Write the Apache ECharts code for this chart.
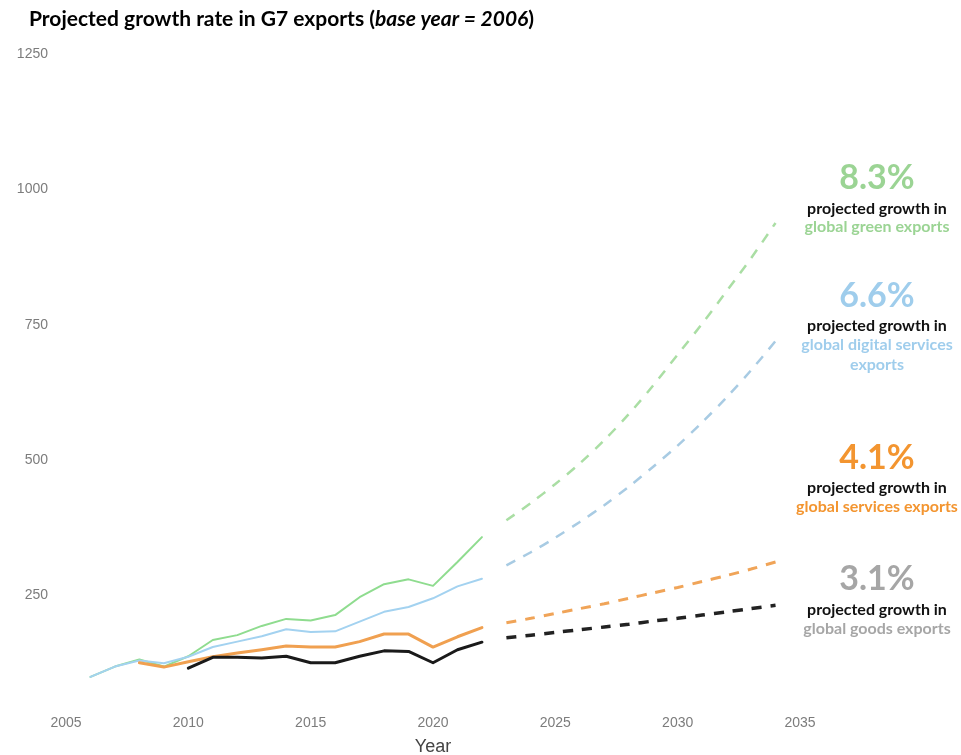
<!DOCTYPE html>
<html>
<head>
<meta charset="utf-8">
<script src="https://cdn.jsdelivr.net/npm/echarts@6/dist/echarts.min.js"></script>
<style>
  html, body { margin: 0; padding: 0; background: #fff; }
  #chart { width: 961px; height: 755px; }
</style>
</head>
<body>
<div id="chart"></div>
<script>
// Historical index values (2006 = 100)
const histYears = [2006, 2007, 2008, 2009, 2010, 2011, 2012, 2013, 2014, 2015, 2016, 2017, 2018, 2019, 2020, 2021, 2022];
const greenHist   = [100, 119, 132, 119, 138, 168, 177, 194, 207, 204, 214, 247, 271, 280, 268, 312, 358];
const digitalHist = [100, 119, 130, 125, 137, 155, 165, 175, 188, 183, 184, 202, 220, 229, 245, 267, 281];
const servicesHist = [null, null, 126, 118, 128, 137, 144, 150, 157, 155, 155, 165, 179, 179, 155, 174, 191];
const goodsHist   = [null, null, null, null, 116, 136, 136, 135, 138, 126, 126, 138, 148, 147, 126, 150, 164];

// Projected index values
const projYears = [2023, 2024, 2025, 2026, 2027, 2028, 2029, 2030, 2031, 2032, 2033, 2034];
const greenProj    = [389, 421, 456, 494, 537, 585, 638, 695, 752, 812, 873, 938];
const digitalProj  = [306, 330, 357, 386, 417, 451, 488, 527, 570, 616, 666, 720];
const servicesProj = [200, 208, 217, 226, 235, 245, 255, 265, 276, 287, 299, 312];
const goodsProj    = [172, 177, 182, 187, 192, 197, 203, 208, 214, 220, 226, 232];

const xTicks = [2005, 2010, 2015, 2020, 2025, 2030, 2035];
const yTicks = [250, 500, 750, 1000, 1250];

const pair = (xs, ys) => xs.map((x, i) => [x, ys[i]]);

const GREEN = '#9bd494', BLUE = '#9fcdec', ORANGE = '#f39530', GREY = '#a6a6a6';

function solid(name, ys, color, width) {
  return { name, type: 'line', data: pair(histYears, ys), showSymbol: false, connectNulls: false,
    lineStyle: { color, width, cap: 'round', join: 'round' }, silent: true, z: 3 };
}
function dashed(name, ys, color, width) {
  return { name, type: 'line', data: pair(projYears, ys), showSymbol: false, smooth: 0.3,
    lineStyle: { color, width, type: [10, 9] }, silent: true, z: 2 };
}

const chart = echarts.init(document.getElementById('chart'));

const font = 'Lato, "Noto Sans", sans-serif';
// Side notes, centred on x = 877
function note(y, text, color, size) {
  return { type: 'text', x: 877, y: y, silent: true,
    style: { text, fill: color, font: `bold ${size}px ${font}`, align: 'center', verticalAlign: 'middle' } };
}

chart.setOption({
  animation: false,
  backgroundColor: '#fff',
  title: {
    left: 24, top: 4,
    text: '{b|Projected growth rate in G7 exports (}{i|base year = 2006}{b|)}',
    textStyle: {
      rich: {
        b: { fontFamily: font, fontWeight: 'bold', fontSize: 21, color: '#000' },
        i: { fontFamily: font, fontWeight: 'bold', fontStyle: 'italic', fontSize: 21, color: '#000' }
      }
    }
  },
  grid: { left: 66, right: 161, top: 54, bottom: 24, containLabel: false, outerBoundsMode: 'none' },
  xAxis: {
    type: 'value', min: 2005, max: 2035, interval: 5,
    axisLine: { show: false }, axisTick: { show: false }, splitLine: { show: false },
    offset: -17,
    axisLabel: { margin: 2, color: '#7c7c7c', fontFamily: '"Liberation Sans", Arial, sans-serif', fontSize: 14,
      formatter: v => xTicks.includes(v) ? String(v) : '' },
    name: 'Year', nameLocation: 'middle', nameGap: 24,
    nameTextStyle: { color: '#444', fontFamily: '"Liberation Sans Narrow", "Liberation Sans", sans-serif', fontSize: 18 }
  },
  yAxis: {
    type: 'value', min: 0, max: 1250, interval: 250,
    axisLine: { show: false }, axisTick: { show: false }, splitLine: { show: false },
    axisLabel: { margin: 18, color: '#7c7c7c', fontFamily: '"Liberation Sans", Arial, sans-serif', fontSize: 14,
      formatter: v => yTicks.includes(v) ? String(v) : '' }
  },
  series: [
    solid('Global green exports', greenHist, '#8fdc8f', 2),
    solid('Global digital services exports', digitalHist, '#a3d2f0', 2),
    solid('Global services exports', servicesHist, '#f0a050', 3),
    solid('Global goods exports', goodsHist, '#1a1a1a', 3),
    dashed('Global green exports (projected)', greenProj, '#aadea4', 2.5),
    dashed('Global digital services exports (projected)', digitalProj, '#a8cbe3', 2.5),
    dashed('Global services exports (projected)', servicesProj, '#f0a458', 3),
    dashed('Global goods exports (projected)', goodsProj, '#222', 3.5)
  ],
  graphic: [
    note(178, '8.3%', GREEN, 34),
    note(209, 'projected growth in', '#111', 16),
    note(227, 'global green exports', GREEN, 16),
    note(296, '6.6%', BLUE, 34),
    note(326, 'projected growth in', '#111', 16),
    note(345, 'global digital services', BLUE, 16),
    note(365, 'exports', BLUE, 16),
    note(458, '4.1%', ORANGE, 34),
    note(488, 'projected growth in', '#111', 16),
    note(507, 'global services exports', ORANGE, 16),
    note(579, '3.1%', GREY, 34),
    note(610, 'projected growth in', '#111', 16),
    note(629, 'global goods exports', GREY, 16)
  ]
});
</script>
</body>
</html>
